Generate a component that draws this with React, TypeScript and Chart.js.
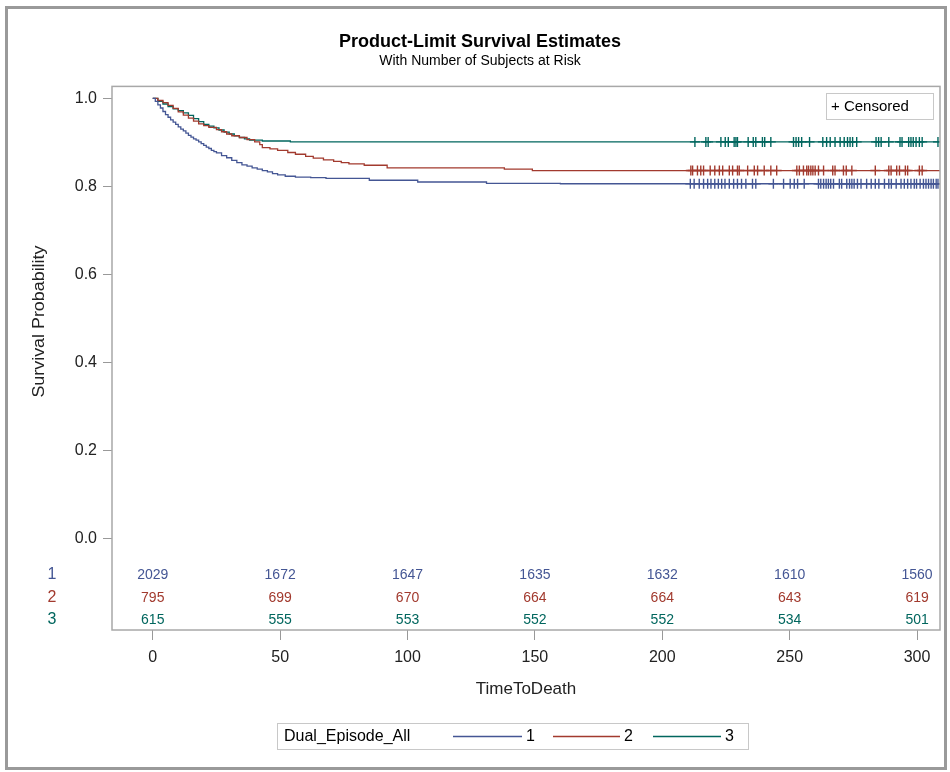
import React, { useEffect, useRef } from "react";
import { Chart, registerables } from "chart.js";

Chart.register(...registerables);

const FONT = "'Liberation Sans', Arial, sans-serif";

const groupLabels = ["1", "2", "3"];
const groupColors = ["#445694", "#A23A2E", "#01665E"];

// Kaplan-Meier step curves (time, survival after the step)
const timesG1 = [0, 1, 2, 3, 4, 5, 6, 7, 8, 9, 10, 11, 12, 13, 14, 15, 16, 17, 18, 19, 20, 21, 22, 23, 24, 25, 27, 29, 31, 33, 35, 37, 39, 41, 43, 45, 47, 49, 52, 56, 62, 68, 85, 104, 131, 160, 309];
const survG1 = [1.0, 0.993, 0.985, 0.978, 0.97, 0.963, 0.957, 0.951, 0.946, 0.941, 0.935, 0.93, 0.926, 0.921, 0.916, 0.912, 0.908, 0.905, 0.901, 0.897, 0.893, 0.889, 0.886, 0.882, 0.879, 0.876, 0.87, 0.865, 0.859, 0.854, 0.849, 0.846, 0.842, 0.839, 0.836, 0.833, 0.829, 0.826, 0.823, 0.821, 0.82, 0.818, 0.814, 0.81, 0.807, 0.806, 0.806];

const timesG2 = [0, 2, 4, 6, 8, 10, 12, 14, 16, 18, 20, 22, 25, 27, 29, 31, 34, 37, 40, 42, 43, 46, 49, 53, 56, 60, 63, 67, 71, 74, 77, 83, 92, 138, 149, 309];
const survG2 = [1.0, 0.995, 0.99, 0.984, 0.977, 0.969, 0.962, 0.955, 0.948, 0.942, 0.938, 0.934, 0.929, 0.924, 0.919, 0.915, 0.911, 0.906, 0.901, 0.895, 0.888, 0.885, 0.882, 0.877, 0.873, 0.868, 0.864, 0.86, 0.857, 0.854, 0.851, 0.848, 0.842, 0.839, 0.836, 0.836];

const timesG3 = [0, 2, 4, 6, 8, 10, 12, 14, 16, 18, 20, 22, 24, 26, 28, 30, 32, 34, 36, 38, 43, 54, 309];
const survG3 = [1.0, 0.993, 0.987, 0.981, 0.976, 0.972, 0.967, 0.961, 0.954, 0.947, 0.941, 0.937, 0.933, 0.928, 0.923, 0.919, 0.915, 0.911, 0.908, 0.905, 0.903, 0.901, 0.901];

// Censoring times
const censorG1 = [211.0, 212.5, 214.5, 216.2, 217.8, 219.1, 220.6, 222.0, 223.3, 224.6, 226.3, 228.0, 229.5, 231.1, 232.8, 235.4, 236.7, 243.6, 247.6, 250.2, 251.8, 253.1, 255.7, 261.3, 262.2, 263.3, 264.3, 265.2, 266.1, 267.2, 269.5, 270.4, 272.4, 273.5, 274.4, 275.3, 276.6, 278.0, 280.2, 282.0, 283.6, 285.0, 287.2, 288.9, 289.9, 291.8, 293.7, 295.0, 296.3, 297.6, 298.9, 299.8, 301.2, 302.5, 303.5, 304.5, 305.5, 306.4, 307.5, 308.2];
const censorG2 = [211.2, 211.9, 213.8, 215.1, 216.2, 218.8, 220.6, 222.4, 223.7, 226.3, 227.6, 229.5, 230.2, 233.5, 236.1, 237.4, 240.0, 242.6, 244.9, 252.8, 253.8, 255.4, 256.7, 257.4, 258.3, 259.1, 260.0, 261.3, 263.3, 266.9, 267.8, 271.1, 272.2, 274.4, 283.6, 288.9, 289.8, 292.0, 293.1, 295.4, 296.3, 300.9, 302.0];
const censorG3 = [212.8, 217.1, 218.0, 223.0, 224.7, 225.9, 228.2, 228.9, 229.5, 233.7, 235.7, 236.7, 239.3, 240.2, 242.6, 251.5, 252.5, 253.5, 254.7, 257.8, 263.0, 264.5, 265.9, 267.8, 269.8, 271.4, 272.7, 273.7, 274.7, 276.3, 283.9, 284.9, 285.9, 288.9, 293.3, 294.1, 296.7, 297.6, 298.5, 299.6, 300.9, 302.0, 308.2];

// Number at risk table
const riskTimes = [0, 50, 100, 150, 200, 250, 300];
const riskG1 = [2029, 1672, 1647, 1635, 1632, 1610, 1560];
const riskG2 = [795, 699, 670, 664, 664, 643, 619];
const riskG3 = [615, 555, 553, 552, 552, 534, 501];
const riskRowY = [-0.082, -0.134, -0.184];

const xTicks = [0, 50, 100, 150, 200, 250, 300];
const yTicks = [0.0, 0.2, 0.4, 0.6, 0.8, 1.0];

const titleText = "Product-Limit Survival Estimates";
const subtitleText = "With Number of Subjects at Risk";
const yTitleText = "Survival Probability";
const legendTitle = "Dual_Episode_All";

function survAt(times: number[], surv: number[], t: number) {
  let s = surv[0];
  for (let i = 0; i < times.length; i++) if (times[i] <= t) s = surv[i];
  return s;
}

const curves = [
  { t: timesG1, s: survG1, c: censorG1, r: riskG1 },
  { t: timesG2, s: survG2, c: censorG2, r: riskG2 },
  { t: timesG3, s: survG3, c: censorG3, r: riskG3 },
];

const framePlugin = {
  id: "frame",
  beforeDraw(chart: any) {
    const ctx = chart.ctx;
    ctx.save();
    ctx.fillStyle = "#fff";
    ctx.fillRect(0, 0, chart.width, chart.height);
    ctx.strokeStyle = "#9a9a9a";
    ctx.lineWidth = 3;
    ctx.strokeRect(6.5, 7.5, 939, 761);
    ctx.restore();
  },
  afterDraw(chart: any) {
    const ctx = chart.ctx;
    const a = chart.chartArea;
    const xs = chart.scales.x;
    const ys = chart.scales.y;
    ctx.save();
    // plot frame
    ctx.strokeStyle = "#a8a8a8";
    ctx.lineWidth = 1.5;
    ctx.strokeRect(a.left, a.top, a.right - a.left, a.bottom - a.top);

    // y axis title, centred on the 0..1 range
    ctx.save();
    const yc = (ys.getPixelForValue(0) + ys.getPixelForValue(1)) / 2 + 3;
    ctx.translate(40, yc);
    ctx.rotate(-Math.PI / 2);
    ctx.font = `16px ${FONT}`;
    const w = ctx.measureText(yTitleText).width;
    ctx.scale(152 / w, 1);
    ctx.fillStyle = "#222";
    ctx.textAlign = "center";
    ctx.textBaseline = "middle";
    ctx.fillText(yTitleText, 0, 0);
    ctx.restore();

    // at-risk table
    ctx.textAlign = "center";
    ctx.textBaseline = "middle";
    curves.forEach((cv, i) => {
      const y = ys.getPixelForValue(riskRowY[i]);
      ctx.fillStyle = groupColors[i];
      ctx.font = `14px ${FONT}`;
      riskTimes.forEach((t, j) => {
        ctx.fillText(String(cv.r[j]), xs.getPixelForValue(t), y);
      });
      ctx.font = `16px ${FONT}`;
      ctx.fillText(groupLabels[i], 52, y);
    });

    // censored legend box
    ctx.strokeStyle = "#c8c8c8";
    ctx.lineWidth = 1;
    ctx.strokeRect(826.5, 93.5, 107, 26);
    ctx.fillStyle = "#000";
    ctx.font = `15px ${FONT}`;
    ctx.textAlign = "left";
    ctx.fillText("+ Censored", 831, 107);

    // group legend
    ctx.strokeRect(277.5, 723.5, 471, 26);
    ctx.font = `16px ${FONT}`;
    ctx.fillText(legendTitle, 284, 737);
    const segs = [[453, 522], [553, 620], [653, 721]];
    segs.forEach((sg, i) => {
      ctx.strokeStyle = groupColors[i];
      ctx.lineWidth = 1.3;
      ctx.beginPath();
      ctx.moveTo(sg[0], 736.5);
      ctx.lineTo(sg[1], 736.5);
      ctx.stroke();
      ctx.fillStyle = "#000";
      ctx.fillText(groupLabels[i], sg[1] + 4, 737);
    });
    ctx.restore();
  },
};

export default function App() {
  const ref = useRef<HTMLCanvasElement | null>(null);
  useEffect(() => {
    if (!ref.current) return;
    const datasets: any[] = [];
    curves.forEach((cv, i) => {
      datasets.push({
        type: "line",
        label: groupLabels[i],
        data: cv.t.map((t, k) => ({ x: t, y: cv.s[k] })),
        borderColor: groupColors[i],
        borderWidth: 1.3,
        pointRadius: 0,
        stepped: true,
        fill: false,
      });
    });
    curves.forEach((cv, i) => {
      datasets.push({
        type: "scatter",
        label: "Censored " + groupLabels[i],
        data: cv.c.map((t) => ({ x: t, y: survAt(cv.t, cv.s, t) })),
        borderColor: groupColors[i],
        backgroundColor: groupColors[i],
        pointStyle: "cross",
        pointRadius: 5,
        borderWidth: 1.4,
        showLine: false,
      });
    });
    const chart = new Chart(ref.current, {
      type: "line",
      data: { datasets },
      plugins: [framePlugin],
      options: {
        animation: false,
        responsive: true,
        maintainAspectRatio: false,
        events: [],
        layout: { padding: { left: 20, right: 10, top: 0, bottom: 62 } },
        plugins: {
          legend: { display: false },
          tooltip: { enabled: false },
          title: {
            display: true,
            text: titleText,
            color: "#000",
            font: { family: FONT, size: 18, weight: "bold" },
            padding: { top: 31, bottom: 0 },
          },
          subtitle: {
            display: true,
            text: subtitleText,
            color: "#000",
            font: { family: FONT, size: 14 },
            padding: { top: 0, bottom: 17 },
          },
        },
        scales: {
          x: {
            type: "linear",
            min: -16,
            max: 309,
            afterBuildTicks: (s: any) => {
              s.ticks = xTicks.map((v) => ({ value: v }));
            },
            afterFit: (s: any) => {
              s.height = 80;
            },
            grid: { display: true, drawOnChartArea: false, drawTicks: true, tickLength: 10, color: "#999" },
            border: { display: false },
            ticks: { color: "#222", padding: 8, font: { family: FONT, size: 16 } },
            title: {
              display: true,
              text: "TimeToDeath",
              color: "#222",
              font: { family: FONT, size: 17 },
              padding: { top: 0, bottom: 10 },
            },
          },
          y: {
            type: "linear",
            min: -0.207,
            max: 1.027,
            afterBuildTicks: (s: any) => {
              s.ticks = yTicks.map((v) => ({ value: v }));
            },
            afterFit: (s: any) => {
              s.width = 92;
            },
            grid: { display: true, drawOnChartArea: false, drawTicks: true, tickLength: 9, color: "#999" },
            border: { display: false },
            ticks: {
              color: "#222",
              padding: 6,
              font: { family: FONT, size: 16 },
              callback: (v: any) => Number(v).toFixed(1),
            },
            title: { display: false },
          },
        },
      },
    } as any);
    return () => chart.destroy();
  }, []);
  return (
    <div style={{ position: "absolute", left: 0, top: 0, width: 950, height: 772 }}>
      <canvas ref={ref} />
    </div>
  );
}
